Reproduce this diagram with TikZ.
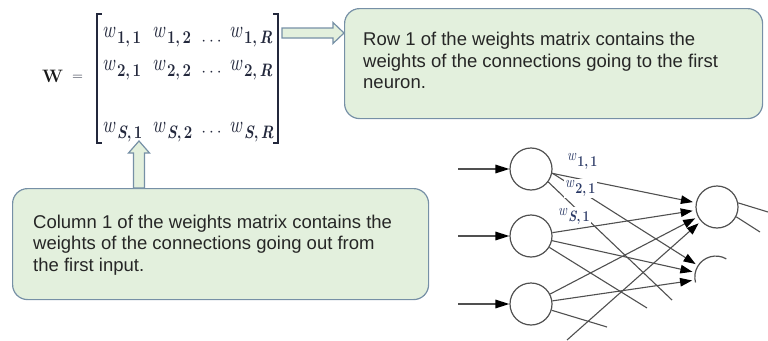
\documentclass[tikz,border=0pt]{standalone}
\usepackage{graphicx}
\usepackage{fontspec}
\setsansfont{Liberation Sans}
\usetikzlibrary{arrows.meta,calc}
\definecolor{boxfill}{RGB}{227,240,221}
\definecolor{boxline}{RGB}{118,144,166}
\definecolor{matc}{RGB}{35,40,60}
\definecolor{labc}{RGB}{40,55,100}
\definecolor{netc}{RGB}{80,80,80}
\newcommand{\went}[2]{\scalebox{1}[1.2]{\textit{w}\kern1.5pt\raisebox{-5.4pt}{\fontsize{15}{15}\selectfont\bfseries #1,\,#2}}}
\newcommand{\wlab}[2]{\scalebox{1}[1.2]{\textit{w}\kern1pt\raisebox{-5.5pt}{\fontsize{12.5}{12.5}\selectfont\bfseries #1,\,#2}}}
\begin{document}
\begin{tikzpicture}[x=1pt,y=1pt,
  callout/.style={draw=boxline, fill=boxfill, line width=1.2pt, rounded corners=15pt, inner sep=0pt},
  blockarrow/.style={draw=boxline, fill=boxfill, line width=1.2pt, line join=miter},
  boxtext/.style={font=\sffamily\fontsize{18.5}{21.5}\selectfont, text=black!85, inner sep=0pt, anchor=base west},
  ment/.style={font=\fontsize{19.5}{19.5}\selectfont, text=matc, inner sep=0pt, anchor=base west},
  mdots/.style={font=\fontsize{19}{19}\selectfont, text=matc, inner sep=0pt},
  neuron/.style={circle, draw=netc, line width=1.2pt, minimum size=42pt, inner sep=0pt},
  conn/.style={draw=netc, line width=1.1pt},
  arr/.style={conn, -{Triangle[length=12pt,width=8.5pt,black]}, shorten >=3pt},
  inarr/.style={draw=netc, line width=1.4pt, -{Triangle[length=14pt,width=8.5pt,black]}},
  wl/.style={font=\fontsize{13.5}{13.5}\selectfont, text=labc, fill=white, inner sep=1pt, anchor=base west}
]
\useasboundingbox (0,0) rectangle (768,-340);

% matrix
\node[font=\fontsize{18}{18}\selectfont\bfseries, text=black!90, inner sep=0pt, anchor=base west] (W) at (42,-82) {W};
\node[font=\fontsize{14}{14}\selectfont, text=matc, inner sep=0pt] (eq) at (77.5,-78) {$=$};
\draw[line width=1.8pt, matc] (101.5,-14) -- (97,-14) -- (97,-143) -- (101.5,-143);
\draw[line width=1.8pt, matc] (273,-14) -- (278,-14) -- (278,-143) -- (273,-143);

\node[ment] (m11) at (102,-37) {\went{1}{1}};
\node[ment] (m12) at (152,-37) {\went{1}{2}};
\node[mdots] (m1d) at (211.5,-42) {$\cdots$};
\node[ment] (m1R) at (229,-37) {\went{1}{\textit{R}}};

\node[ment] (m21) at (102,-70) {\went{2}{1}};
\node[ment] (m22) at (152,-70) {\went{2}{2}};
\node[mdots] (m2d) at (211.5,-73) {$\cdots$};
\node[ment] (m2R) at (229,-70) {\went{2}{\textit{R}}};

\node[ment] (mS1) at (102,-132) {\went{\textit{S}}{1}};
\node[ment] (mS2) at (152,-132) {\went{\textit{S}}{2}};
\node[mdots] (mSd) at (211.5,-133) {$\cdots$};
\node[ment] (mSR) at (229,-132) {\went{\textit{S}}{\textit{R}}};

% callout boxes
\node[callout, minimum width=418pt, minimum height=110pt, anchor=north west] (box1) at (344,-8) {};
\node[callout, minimum width=416pt, minimum height=111pt, anchor=north west] (box2) at (12,-188) {};

\node[boxtext] (t1a) at (363,-45.5) {Row 1 of the weights matrix contains the};
\node[boxtext] (t1b) at (363,-67) {weights of the connections going to the first};
\node[boxtext] (t1c) at (363,-88.5) {neuron.};

\node[boxtext] (t2a) at (33,-228) {Column 1 of the weights matrix contains the};
\node[boxtext] (t2b) at (33,-249.5) {weights of the connections going out from};
\node[boxtext] (t2c) at (33,-271) {the first input.};

% block arrows
\coordinate (rowtail) at (282,-33);
\draw[blockarrow] (rowtail) ++(0,5) -- ++(51,0) -- ++(0,5.5) -- (box1.west |- rowtail) -- ++(-11,-10.5) -- ++(0,5.5) -- ++(-51,0) -- cycle;
\coordinate (coltip) at (139,-141);
\draw[blockarrow] (coltip) -- ++(10.5,-12) -- ++(-5,0) -- ($(coltip |- box2.north)+(5.5,0)$) -- ++(-11,0) -- ($(coltip)+(-5.5,-12)$) -- ++(-5,0) -- cycle;

% network
\node[neuron] (i1) at (531,-169) {};
\node[neuron] (i2) at (531,-236) {};
\node[neuron] (i3) at (531,-304) {};
\node[neuron] (o1) at (717,-207) {};
\node[circle, minimum size=42pt, inner sep=0pt] (o2) at (716,-277) {};
\draw[netc, line width=1.2pt] (o2.195) arc[start angle=195, end angle=60, radius=21pt];

\coordinate (in1) at (458,-169);
\coordinate (in2) at (458,-236);
\coordinate (in3) at (458,-304);
\draw[inarr] (in1) -- (i1);
\draw[inarr] (in2) -- (i2);
\draw[inarr] (in3) -- (i3);

\coordinate (e1) at (672,-300);
\coordinate (e2) at (647,-308);
\coordinate (e3) at (607,-327);
\coordinate (b4) at (567,-340);
\coordinate (x1) at (768,-212);
\coordinate (x2) at (760,-232);

\draw[arr] (i1) -- (o1);
\draw[arr] (i1.-11) -- (o2);
\draw[conn] (i1.-37) -- (e1);
\draw[arr] (i2) -- (o1);
\draw[arr] (i2) -- (o2);
\draw[conn] (i2) -- (e2);
\draw[arr] (i3) -- (o1);
\draw[arr] (i3) -- (o2);
\draw[conn] (i3) -- (e3);
\draw[arr] (b4) -- (o1);
\draw[conn] (o1.11) -- (x1);
\draw[conn] (o1.-27) -- (x2);

\node[wl] (l11) at (566,-160) {\wlab{1}{1}};
\node[wl] (l21) at (564,-187) {\wlab{2}{1}};
\node[wl] (lS1) at (557,-215) {\wlab{\textit{S}}{1}};
\end{tikzpicture}
\end{document}
